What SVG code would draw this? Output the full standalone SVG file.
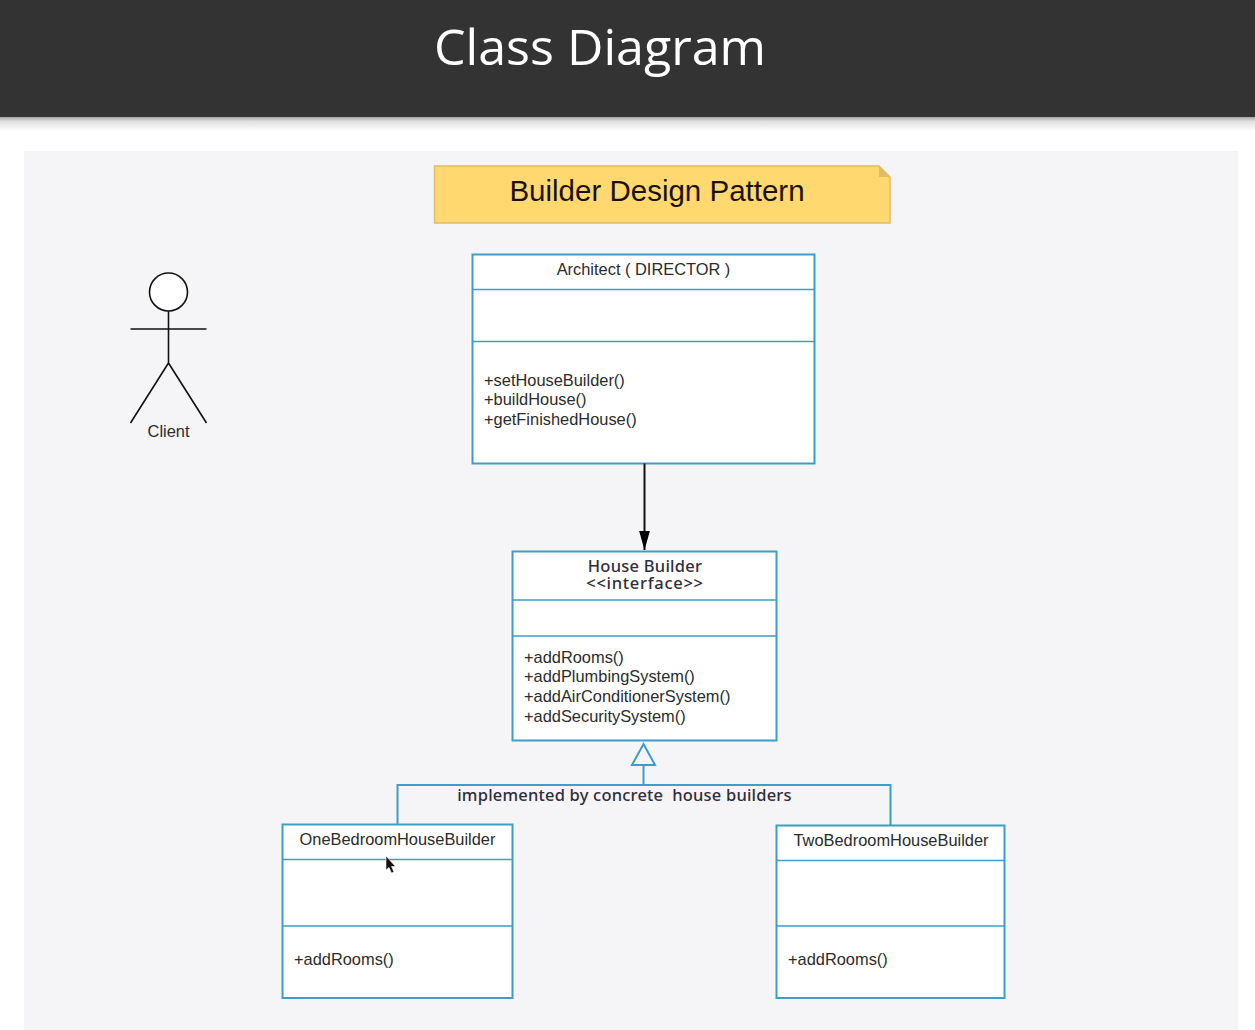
<svg xmlns="http://www.w3.org/2000/svg" width="1255" height="1030" viewBox="0 0 1255 1030">
<style>
.cls{fill:#fff;stroke:#3a9ec9;stroke-width:2}
.div{fill:none;stroke:#3a9ec9;stroke-width:1.6}
.t{font-family:"Liberation Sans",Arial,sans-serif;font-size:16.4px;fill:#2b2b2b}
.c{text-anchor:middle}
.h{font-family:"Noto Sans","Open Sans",sans-serif;font-weight:500;fill:#2e2e3a;text-anchor:middle;white-space:pre}
.conn{fill:none;stroke:#3a9ec9;stroke-width:2}
.blk{fill:none;stroke:#111;stroke-width:2}
</style>
<defs>
<linearGradient id="sh" x1="0" y1="0" x2="0" y2="1"><stop offset="0" stop-color="#a6a6a6"/><stop offset="0.3" stop-color="#dedede"/><stop offset="1" stop-color="#fff"/></linearGradient>
<marker id="arrow" markerUnits="userSpaceOnUse" markerWidth="20" markerHeight="12" refX="19.500" refY="6" orient="auto"><path d="M0 0.500L19.500 6L0 11.500Z" fill="#000"/></marker>
</defs>
<rect width="1255" height="1030" fill="#fff"/>
<rect width="1255" height="117" fill="#333"/>
<rect y="117" width="1255" height="14" fill="url(#sh)"/>
<text x="600" y="65" text-anchor="middle" font-family="'Open Sans','Noto Sans',sans-serif" font-size="50.200" fill="#fff">Class Diagram</text>
<rect x="24" y="151" width="1214" height="879" fill="#f5f4f7"/>
<g id="note">
<path d="M434.500 166H879L890 177V223H434.500Z" fill="#ffd970" stroke="#e0bb68" stroke-width="1.500"/>
<path d="M879 166V177H890Z" fill="#e0bb68"/>
<text x="657" y="201" text-anchor="middle" font-family="'Liberation Sans',sans-serif" font-size="29.500" fill="#1a1208">Builder Design Pattern</text>
</g>
<g id="client" fill="none" stroke="#111" stroke-width="1.600">
<circle cx="168.500" cy="292" r="19" fill="#fff"/>
<path d="M130.500 329H206.500M168.500 311V363L130.500 423M168.500 363L206.500 423"/>
<text x="168.500" y="437" class="t c" stroke="none">Client</text>
</g>
<g id="architect">
<rect x="472.500" y="254.500" width="342" height="209" class="cls"/>
<path d="M472.500 289.500H814.500M472.500 341.500H814.500" class="div"/>
<text x="643.500" y="275" class="t c">Architect ( DIRECTOR )</text>
<text x="484" y="386" class="t">+setHouseBuilder()</text>
<text x="484" y="405" class="t">+buildHouse()</text>
<text x="484" y="425" class="t">+getFinishedHouse()</text>
</g>
<g id="house-builder">
<rect x="512.500" y="551.500" width="264" height="189" class="cls"/>
<path d="M512.500 600H776.500M512.500 636H776.500" class="div"/>
<text class="h" font-size="16.500"><tspan x="645" y="572" letter-spacing="0.250">House Builder</tspan><tspan x="645" y="589" letter-spacing="0.700">&lt;&lt;interface&gt;&gt;</tspan></text>
<text x="524" y="662.500" class="t">+addRooms()</text>
<text x="524" y="682" class="t">+addPlumbingSystem()</text>
<text x="524" y="702" class="t">+addAirConditionerSystem()</text>
<text x="524" y="721.500" class="t">+addSecuritySystem()</text>
</g>
<g id="one-bedroom">
<rect x="282.500" y="824.500" width="230" height="173.500" class="cls"/>
<path d="M282.500 859.500H512.500M282.500 926H512.500" class="div"/>
<text x="397.500" y="845" class="t c">OneBedroomHouseBuilder</text>
<text x="294" y="965" class="t">+addRooms()</text>
</g>
<g id="two-bedroom">
<rect x="776.500" y="825.500" width="228" height="172.500" class="cls"/>
<path d="M776.500 860.500H1004.500M776.500 926H1004.500" class="div"/>
<text x="891" y="846" class="t c">TwoBedroomHouseBuilder</text>
<text x="788" y="965" class="t">+addRooms()</text>
</g>
<g id="connectors">
<path d="M644.500 463.500V550" class="blk" marker-end="url(#arrow)"/>
<path d="M397.500 824V785H890.500V825M643.500 785V765" class="conn"/>
<path d="M643.500 744L655 765H632Z" fill="#f5f4f7" stroke="#3a9ec9" stroke-width="2"/>
</g>
<text x="624.500" y="801" class="h" font-size="16.500" letter-spacing="0.200">implemented by concrete  house builders</text>
<path id="cursor" d="M386 856V870L389 867.500L391.500 873L394 872L391.500 866.500H395.500Z" fill="#111" stroke="#fff" stroke-width="0.600"/>
</svg>
